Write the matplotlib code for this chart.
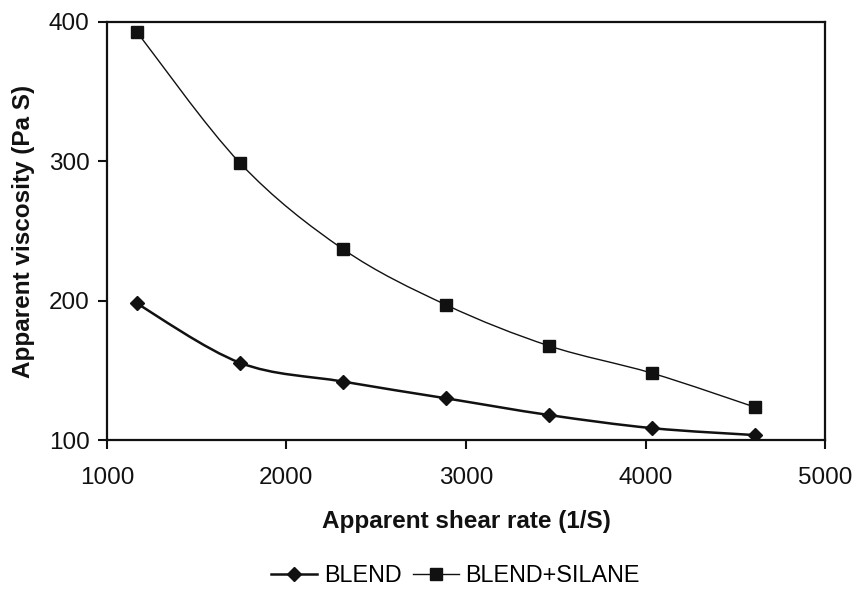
import matplotlib
matplotlib.use("Agg")
import matplotlib.pyplot as plt
from matplotlib.path import Path
from matplotlib.patches import PathPatch
from matplotlib.lines import Line2D
import numpy as np

shear_rate = [1167, 1741, 2315, 2889, 3463, 4037, 4611]
blend = [198, 155.5, 142, 130, 118, 108.6, 103.6]
blend_silane = [392.8, 298.8, 237, 197, 167.6, 148, 123.6]
series_labels = ["BLEND", "BLEND+SILANE"]
x_ticks = [1000, 2000, 3000, 4000, 5000]
y_ticks = [100, 200, 300, 400]

plt.rcParams['font.family'] = ['Liberation Sans', 'DejaVu Sans']
INK = '#111111'

fig = plt.figure(figsize=(8.55, 5.90), dpi=100)
ax = fig.add_axes([0.125, 0.254, 0.84, 0.709])


def smooth_path(xs, ys):
    pts = np.column_stack([xs, ys]).astype(float)
    n = len(pts)
    verts = [pts[0]]
    codes = [Path.MOVETO]
    for i in range(n - 1):
        p0 = pts[i - 1] if i > 0 else pts[i]
        p1 = pts[i]
        p2 = pts[i + 1]
        p3 = pts[i + 2] if i + 2 < n else pts[i + 1]
        c1 = p1 + (p2 - p0) / 6.0
        c2 = p2 - (p3 - p1) / 6.0
        verts += [c1, c2, p2]
        codes += [Path.CURVE4] * 3
    return Path(verts, codes)


ax.add_patch(PathPatch(smooth_path(shear_rate, blend), fill=False,
                       edgecolor=INK, lw=1.8, zorder=2))
ax.add_patch(PathPatch(smooth_path(shear_rate, blend_silane), fill=False,
                       edgecolor=INK, lw=1.0, zorder=2))
ax.plot(shear_rate, blend, linestyle='none', marker='D', ms=7.5,
        color=INK, zorder=3)
ax.plot(shear_rate, blend_silane, linestyle='none', marker='s', ms=9,
        color=INK, zorder=3)

ax.set_xlim(1000, 5000)
ax.set_ylim(100, 400)
ax.set_xticks(x_ticks)
ax.set_yticks(y_ticks)
ax.tick_params(direction='out', length=6.5, width=1.5, labelsize=17.5,
               colors=INK)
ax.tick_params(axis='x', pad=13)
ax.tick_params(axis='y', pad=6)
for s in ax.spines.values():
    s.set_linewidth(1.6)
    s.set_color(INK)

ax.set_xlabel("Apparent shear rate (1/S)", fontsize=17.5, fontweight='bold',
              labelpad=15, color=INK)
ax.set_ylabel("Apparent viscosity (Pa S)", fontsize=17.5, fontweight='bold',
              labelpad=10, color=INK)

handles = [
    Line2D([], [], color=INK, lw=1.8, marker='D', ms=7),
    Line2D([], [], color=INK, lw=1.0, marker='s', ms=8),
]
fig.legend(handles, series_labels, loc='center', bbox_to_anchor=(0.533, 0.024),
           ncol=2, frameon=False, fontsize=16.8, handlelength=1.95,
           columnspacing=0.5, handletextpad=0.3, borderpad=0.1)

fig.savefig("out.png", dpi=100)
